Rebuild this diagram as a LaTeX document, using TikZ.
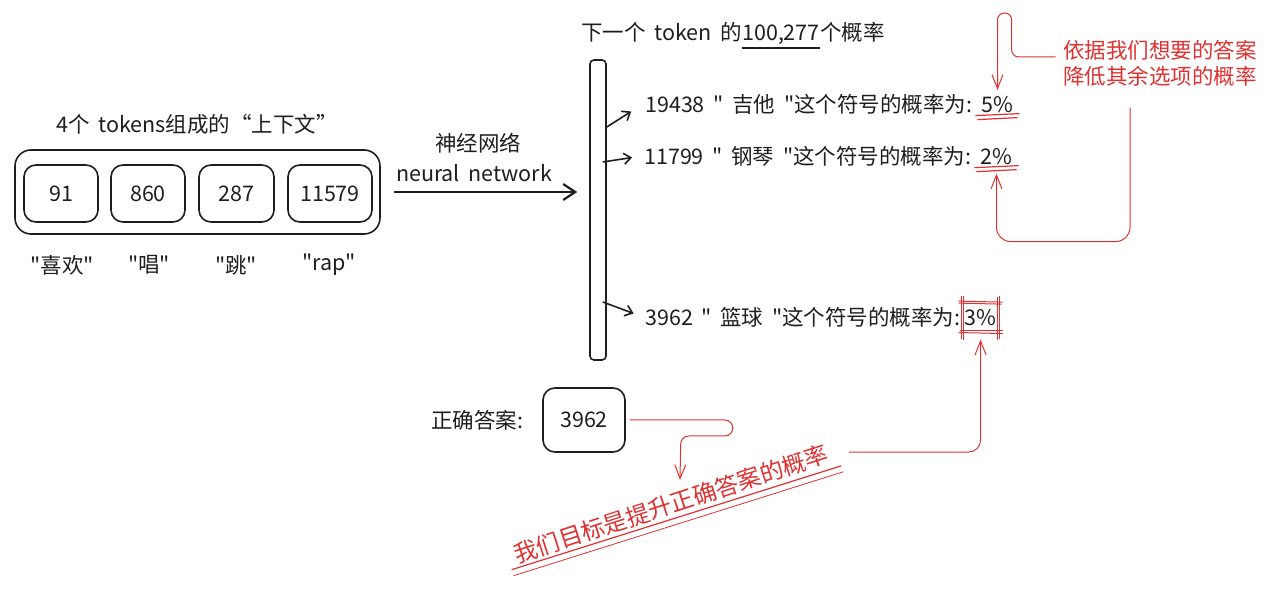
\documentclass[tikz,border=0pt]{standalone}
\usepackage{fontspec}
\setmainfont{Noto Sans CJK SC}[Ligatures=TeXOff, WordSpace=1.8]
\usepackage{xcolor}
\usetikzlibrary{arrows.meta, positioning}

\definecolor{ink}{HTML}{1E1E1E}
\definecolor{pen}{HTML}{E03131}

\begin{document}
\begin{tikzpicture}[
  x=1pt, y=-1pt,
  font=\fontsize{21.5}{26}\selectfont,
  text=ink,
  token/.style={
    rectangle,
    draw=ink,
    line width=1.6pt,
    minimum width=#1,
    minimum height=57pt,
    rounded corners=12pt
  },
  token/.default=74pt,
  context/.style={
    rectangle,
    draw=ink,
    line width=1.6pt,
    minimum width=365pt,
    minimum height=84pt,
    rounded corners=16pt
  },
  prob/.style={anchor=west, inner sep=2pt},
  value/.style={anchor=base west, inner sep=2pt},
  note/.style={text=pen, align=center},
  pointer/.style={
    -{Straight Barb[length=7pt, width=11pt]},
    line width=1.6pt,
    draw=ink,
    shorten >=10pt
  },
  redarrow/.style={
    -{Straight Barb[length=14pt, width=11pt]},
    line width=1pt,
    draw=pen
  },
  redline/.style={line width=1.2pt, draw=pen}
]
\useasboundingbox (0,0) rectangle (1280,601);

% Context of four tokens
\node (ctxtitle) at (197,124) {4个 tokens组成的“上下文”};
\node[context] (ctx) at (197.5,192) {};
\node[token] (t1) at (61,193.5) {91};
\node[token] (t2) at (148,193.5) {860};
\node[token=75pt] (t3) at (236.5,193.5) {287};
\node[token=84pt] (t4) at (330,193.5) {11579};

% Words of the tokens
\node (w1) at (62,265) {"喜欢"};
\node (w2) at (149,265) {"唱"};
\node (w3) at (236,265) {"跳"};
\node (w4) at (329,265) {"rap"};

% Neural network
\node[rectangle, draw=ink, line width=1.6pt, minimum width=16pt, minimum height=300pt,
  rounded corners=4pt] (bar) at (598,210) {};
\node (nncn) at (478,143) {神经网络};
\node (nnen) at (474,173) {neural network};
\draw[-{Straight Barb[length=12pt, width=16pt]}, line width=2.2pt, draw=ink,
  shorten <=13pt, shorten >=12pt] (ctx.east) -- (bar.west |- ctx.east);

% Output probabilities
\node[inner sep=0pt] (headnum) at (781,35) {100,277};
\node[inner sep=0pt, anchor=base east] (headl) at (headnum.base west) {下一个 token 的};
\node[inner sep=0pt, anchor=base west] (headr) at (headnum.base east) {个概率};
\draw[line width=1.2pt, draw=ink] ([yshift=-3pt]headnum.south west) -- ([yshift=-3pt]headnum.south east);

\node[prob] (p1) at (643,104) {19438 " 吉他 "这个符号的概率为:};
\node[value] (v1) at ([xshift=5pt]p1.base east) {5\%};
\node[prob] (p2) at (642,156) {11799 " 钢琴 "这个符号的概率为:};
\node[value] (v2) at ([xshift=5pt]p2.base east) {2\%};
\node[prob] (p3) at (643,317) {3962 " 篮球 "这个符号的概率为:};
\node[value, inner xsep=3pt, minimum height=34pt] (v3) at ([xshift=-1pt]p3.base east) {3\%};

\draw[pointer, shorten >=14pt] ([yshift=83pt]bar.east) -- (p1.west);
\draw[pointer] ([xshift=-4pt, yshift=48pt]bar.east) -- (p2.west);
\draw[pointer] ([xshift=-4pt, yshift=-92pt]bar.east) -- (p3.west);

% Red marks on the values
\draw[redline] ([xshift=-4pt, yshift=-1pt]v1.south west) -- ([xshift=4pt, yshift=1pt]v1.south east);
\draw[redline] ([xshift=-2pt, yshift=-5pt]v1.south west) -- ([xshift=2pt, yshift=-3pt]v1.south east);
\draw[redline] ([xshift=-4pt, yshift=-1pt]v2.south west) -- ([xshift=4pt, yshift=1pt]v2.south east);
\draw[redline] ([xshift=-2pt, yshift=-5pt]v2.south west) -- ([xshift=2pt, yshift=-3pt]v2.south east);
\draw[redline, line width=1pt] ([xshift=-3pt, yshift=-1pt]v3.north west) -- ([xshift=3pt, yshift=-2pt]v3.north east);
\draw[redline, line width=1pt] ([xshift=-3pt, yshift=-3pt]v3.north west) -- ([xshift=2pt, yshift=-4pt]v3.north east);
\draw[redline, line width=1pt] ([xshift=-3pt, yshift=2pt]v3.south west) -- ([xshift=3pt, yshift=1pt]v3.south east);
\draw[redline, line width=1pt] ([xshift=-2pt, yshift=4pt]v3.south west) -- ([xshift=3pt, yshift=4pt]v3.south east);
\draw[redline, line width=1pt] ([yshift=4pt]v3.north west) -- ([yshift=-4pt]v3.south west);
\draw[redline, line width=1pt] ([xshift=2pt, yshift=4pt]v3.north west) -- ([xshift=2pt, yshift=-5pt]v3.south west);
\draw[redline, line width=1pt] ([yshift=4pt]v3.north east) -- ([yshift=-4pt]v3.south east);
\draw[redline, line width=1pt] ([xshift=-2pt, yshift=3pt]v3.north east) -- ([xshift=-2pt, yshift=-5pt]v3.south east);

% Lower the other options
\node[note, font=\fontsize{21.5}{26}\selectfont] (lower) at (1160,63) {依据我们想要的答案\\降低其余选项的概率};
\draw[redarrow, rounded corners=7pt, shorten >=4pt]
  ([xshift=-4pt, yshift=6pt]lower.west) -| ++(-44,-44) -| (v1.north);
\draw[redarrow, rounded corners=14pt, shorten >=7pt]
  ([xshift=-30pt, yshift=-18pt]lower.south) -- ++(0,134) -| (v2.south);

% Raise the correct answer
\node (anslabel) at (477,420) {正确答案:};
\node[token=82pt, minimum height=64pt] (ans) at (584,420) {3962};
\node[note, font=\fontsize{23.5}{28}\selectfont, rotate=18] (goal) at (671,504) {我们目标是提升正确答案的概率};
\coordinate (goaltop) at (680,480);
\draw[redline] ([xshift=-4pt]goal.south west) -- ([xshift=6pt]goal.south east);
\draw[redline, line width=0.8pt] ([xshift=-2pt, yshift=-6pt]goal.south west) -- ([xshift=8pt, yshift=-6pt]goal.south east);
\draw[redarrow, rounded corners=8pt]
  ([xshift=4pt]ans.east) -- ++(103,0) -- ++(0,16) -- ++(-52,0) -- (goaltop);
\draw[redarrow, rounded corners=12pt, shorten >=5pt]
  ([xshift=18pt]goal.east) -| (v3.south);
\end{tikzpicture}
\end{document}
